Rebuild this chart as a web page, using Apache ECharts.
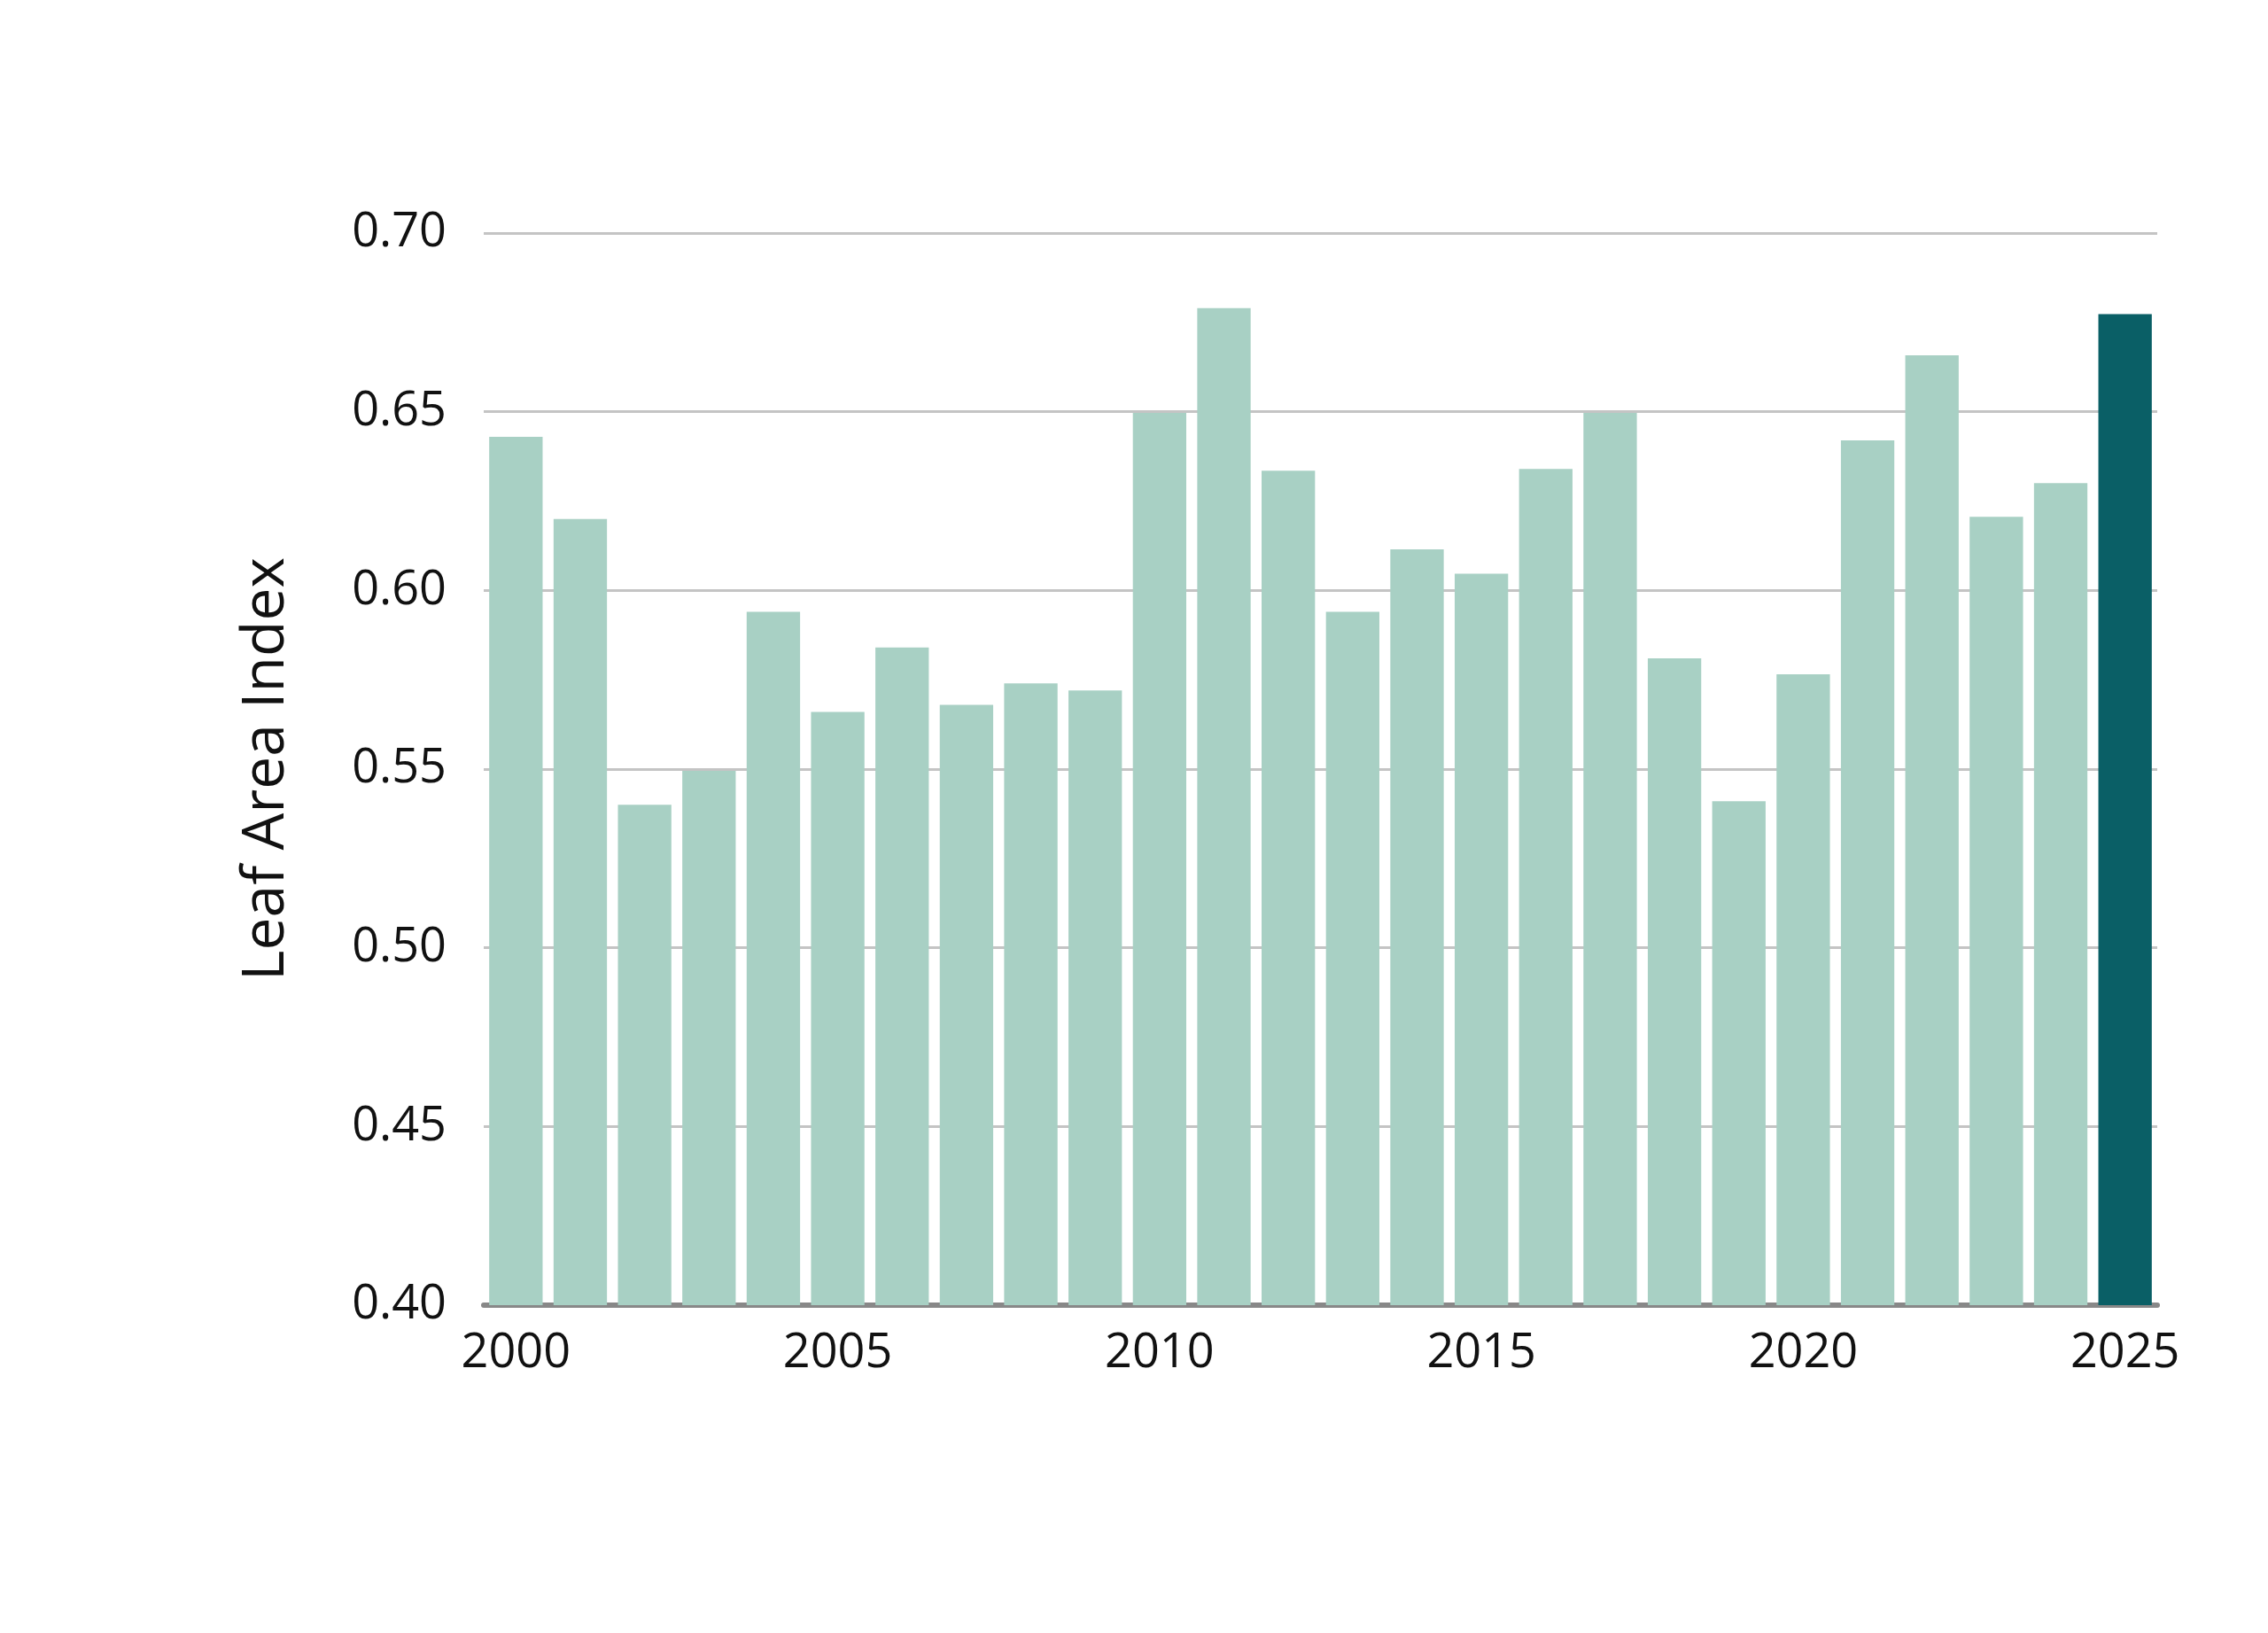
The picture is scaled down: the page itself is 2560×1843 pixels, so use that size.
<!DOCTYPE html>
<html>
<head>
<meta charset="utf-8">
<script src="https://cdn.jsdelivr.net/npm/echarts@6/dist/echarts.min.js"></script>
<style>
html,body{margin:0;padding:0;background:#fff;}
#chart{width:2560px;height:1843px;}
</style>
</head>
<body>
<div id="chart"></div>
<script>
const years = ['2000','2001','2002','2003','2004','2005','2006','2007','2008','2009','2010','2011','2012','2013','2014','2015','2016','2017','2018','2019','2020','2021','2022','2023','2024','2025'];
const lai = [0.643,0.620,0.540,0.5495,0.594,0.566,0.584,0.568,0.574,0.572,0.6497,0.679,0.6335,0.594,0.6115,0.6047,0.634,0.6497,0.581,0.541,0.5765,0.642,0.6658,0.6206,0.630,0.6773];
const highlightYear = '2025';
const yTicks = [0.40,0.45,0.50,0.55,0.60,0.65,0.70];
const yTitle = 'Leaf Area Index';

const lightColor = '#a8d0c4';
const darkColor = '#0a5f66';

const chart = echarts.init(document.getElementById('chart'), null, {renderer:'canvas'});
chart.setOption({
  animation:false,
  backgroundColor:'#ffffff',
  grid:{left:546, right:125, top:263, bottom:370, containLabel:false},
  xAxis:{
    type:'category',
    data:years,
    axisLine:{show:true, lineStyle:{color:'#888888', width:6}},
    axisTick:{show:false},
    axisLabel:{interval:4, color:'#111111', fontFamily:'Open Sans', fontSize:54, margin:28}
  },
  yAxis:{
    type:'value',
    min:yTicks[0], max:yTicks[yTicks.length-1], interval:0.05,
    name:yTitle,
    nameLocation:'middle',
    nameGap:212,
    nameRotate:90,
    nameTextStyle:{color:'#111111', fontFamily:'Open Sans', fontSize:66},
    axisLine:{show:false},
    axisTick:{show:false},
    splitLine:{show:true, lineStyle:{color:'#c4c4c4', width:3}},
    axisLabel:{color:'#111111', fontFamily:'Open Sans', fontSize:54, margin:42,
      formatter:function(v){return v.toFixed(2);}}
  },
  series:[{
    type:'bar',
    data:lai.map(function(v,i){
      return {value:v, itemStyle:{color: years[i]===highlightYear ? darkColor : lightColor}};
    }),
    barCategoryGap:'17%',
    z:1
  }]
});
</script>
</body>
</html>
